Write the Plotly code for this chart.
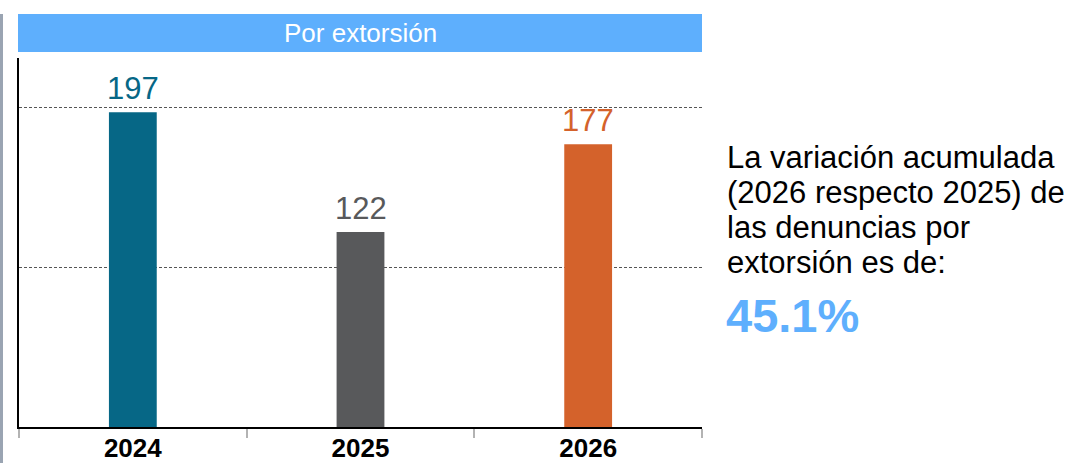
import plotly.graph_objects as go

# ---- data ----
categories = ["2024", "2025", "2026"]
values = [197, 122, 177]
bar_colors = ["#066786", "#58595b", "#d4622b"]
panel_title = "Por extorsión"
note_lines = ["La variación acumulada", "(2026 respecto 2025) de", "las denuncias por", "extorsión es de:"]
variation_text = "45.1%"
grid_values = [100, 200]

FONT = "Liberation Sans, Arial, sans-serif"
W, H = 1079, 463
ML, MR, MT, MB = 19, 377, 58, 36
PW = W - ML - MR
PH = H - MT - MB


def px_x(x):
    return (x - ML) / PW


def px_y(y):
    return (H - MB - y) / PH


positions = list(range(len(categories)))
boundaries = [p - 0.5 for p in positions] + [positions[-1] + 0.5]

fig = go.Figure()
fig.add_trace(go.Bar(
    x=positions, y=values, marker=dict(color=bar_colors, line=dict(width=0)),
    width=0.21, hoverinfo="skip", showlegend=False,
))

annotations = []
for p, v, col in zip(positions, values, bar_colors):
    annotations.append(dict(
        x=p, y=v, xref="x", yref="y", text=str(v), showarrow=False,
        xanchor="center", yanchor="bottom", yshift=4,
        font=dict(family=FONT, size=31, color=col),
    ))

annotations.append(dict(
    x=px_x(360), y=px_y(33), xref="paper", yref="paper", text=panel_title,
    showarrow=False, xanchor="center", yanchor="middle",
    font=dict(family=FONT, size=26, color="white"),
))

line_centers = [157, 192, 227, 262]
for t, yc in zip(note_lines, line_centers):
    annotations.append(dict(
        x=px_x(725), y=px_y(yc), xref="paper", yref="paper", text=t,
        showarrow=False, xanchor="left", yanchor="middle",
        font=dict(family=FONT, size=31, color="black"),
    ))
annotations.append(dict(
    x=px_x(724), y=px_y(315), xref="paper", yref="paper", text=variation_text,
    showarrow=False, xanchor="left", yanchor="middle",
    font=dict(family=FONT, size=47, color="#5eaffd", weight="bold"),
))

shapes = [
    dict(type="rect", xref="paper", yref="paper",
         x0=px_x(18), x1=px_x(702), y0=px_y(52), y1=px_y(14),
         fillcolor="#5eaffd", line=dict(width=0), layer="below"),
    dict(type="line", xref="paper", yref="paper",
         x0=px_x(1.5), x1=px_x(1.5), y0=px_y(470), y1=px_y(14),
         line=dict(color="#9aa4b2", width=3)),
]

fig.update_layout(
    width=W, height=H, margin=dict(l=ML, r=MR, t=MT, b=MB, autoexpand=False),
    paper_bgcolor="white", plot_bgcolor="white",
    annotations=annotations, shapes=shapes,
    xaxis=dict(
        range=[-0.5, 2.5], tickvals=positions, ticktext=categories, ticks="",
        showline=True, linecolor="black", linewidth=2, showgrid=False,
        zeroline=False, automargin=False, ticklabelstandoff=-3,
        tickfont=dict(family=FONT, size=26, color="black", weight="bold"),
        minor=dict(tickvals=boundaries, ticks="outside", ticklen=9,
                   tickcolor="#b3b3b3", tickwidth=2, showgrid=False),
    ),
    yaxis=dict(
        range=[0, 231], showticklabels=False, tickvals=grid_values,
        showgrid=True, gridcolor="#555555", griddash="3px,2px", gridwidth=1,
        showline=True, linecolor="black", linewidth=2, zeroline=False,
        ticks="", automargin=False,
    ),
)

fig.write_html(
    "out.html",
    config={"displayModeBar": False},
    post_script="document.body.style.margin='0';document.body.style.overflow='hidden';",
)
